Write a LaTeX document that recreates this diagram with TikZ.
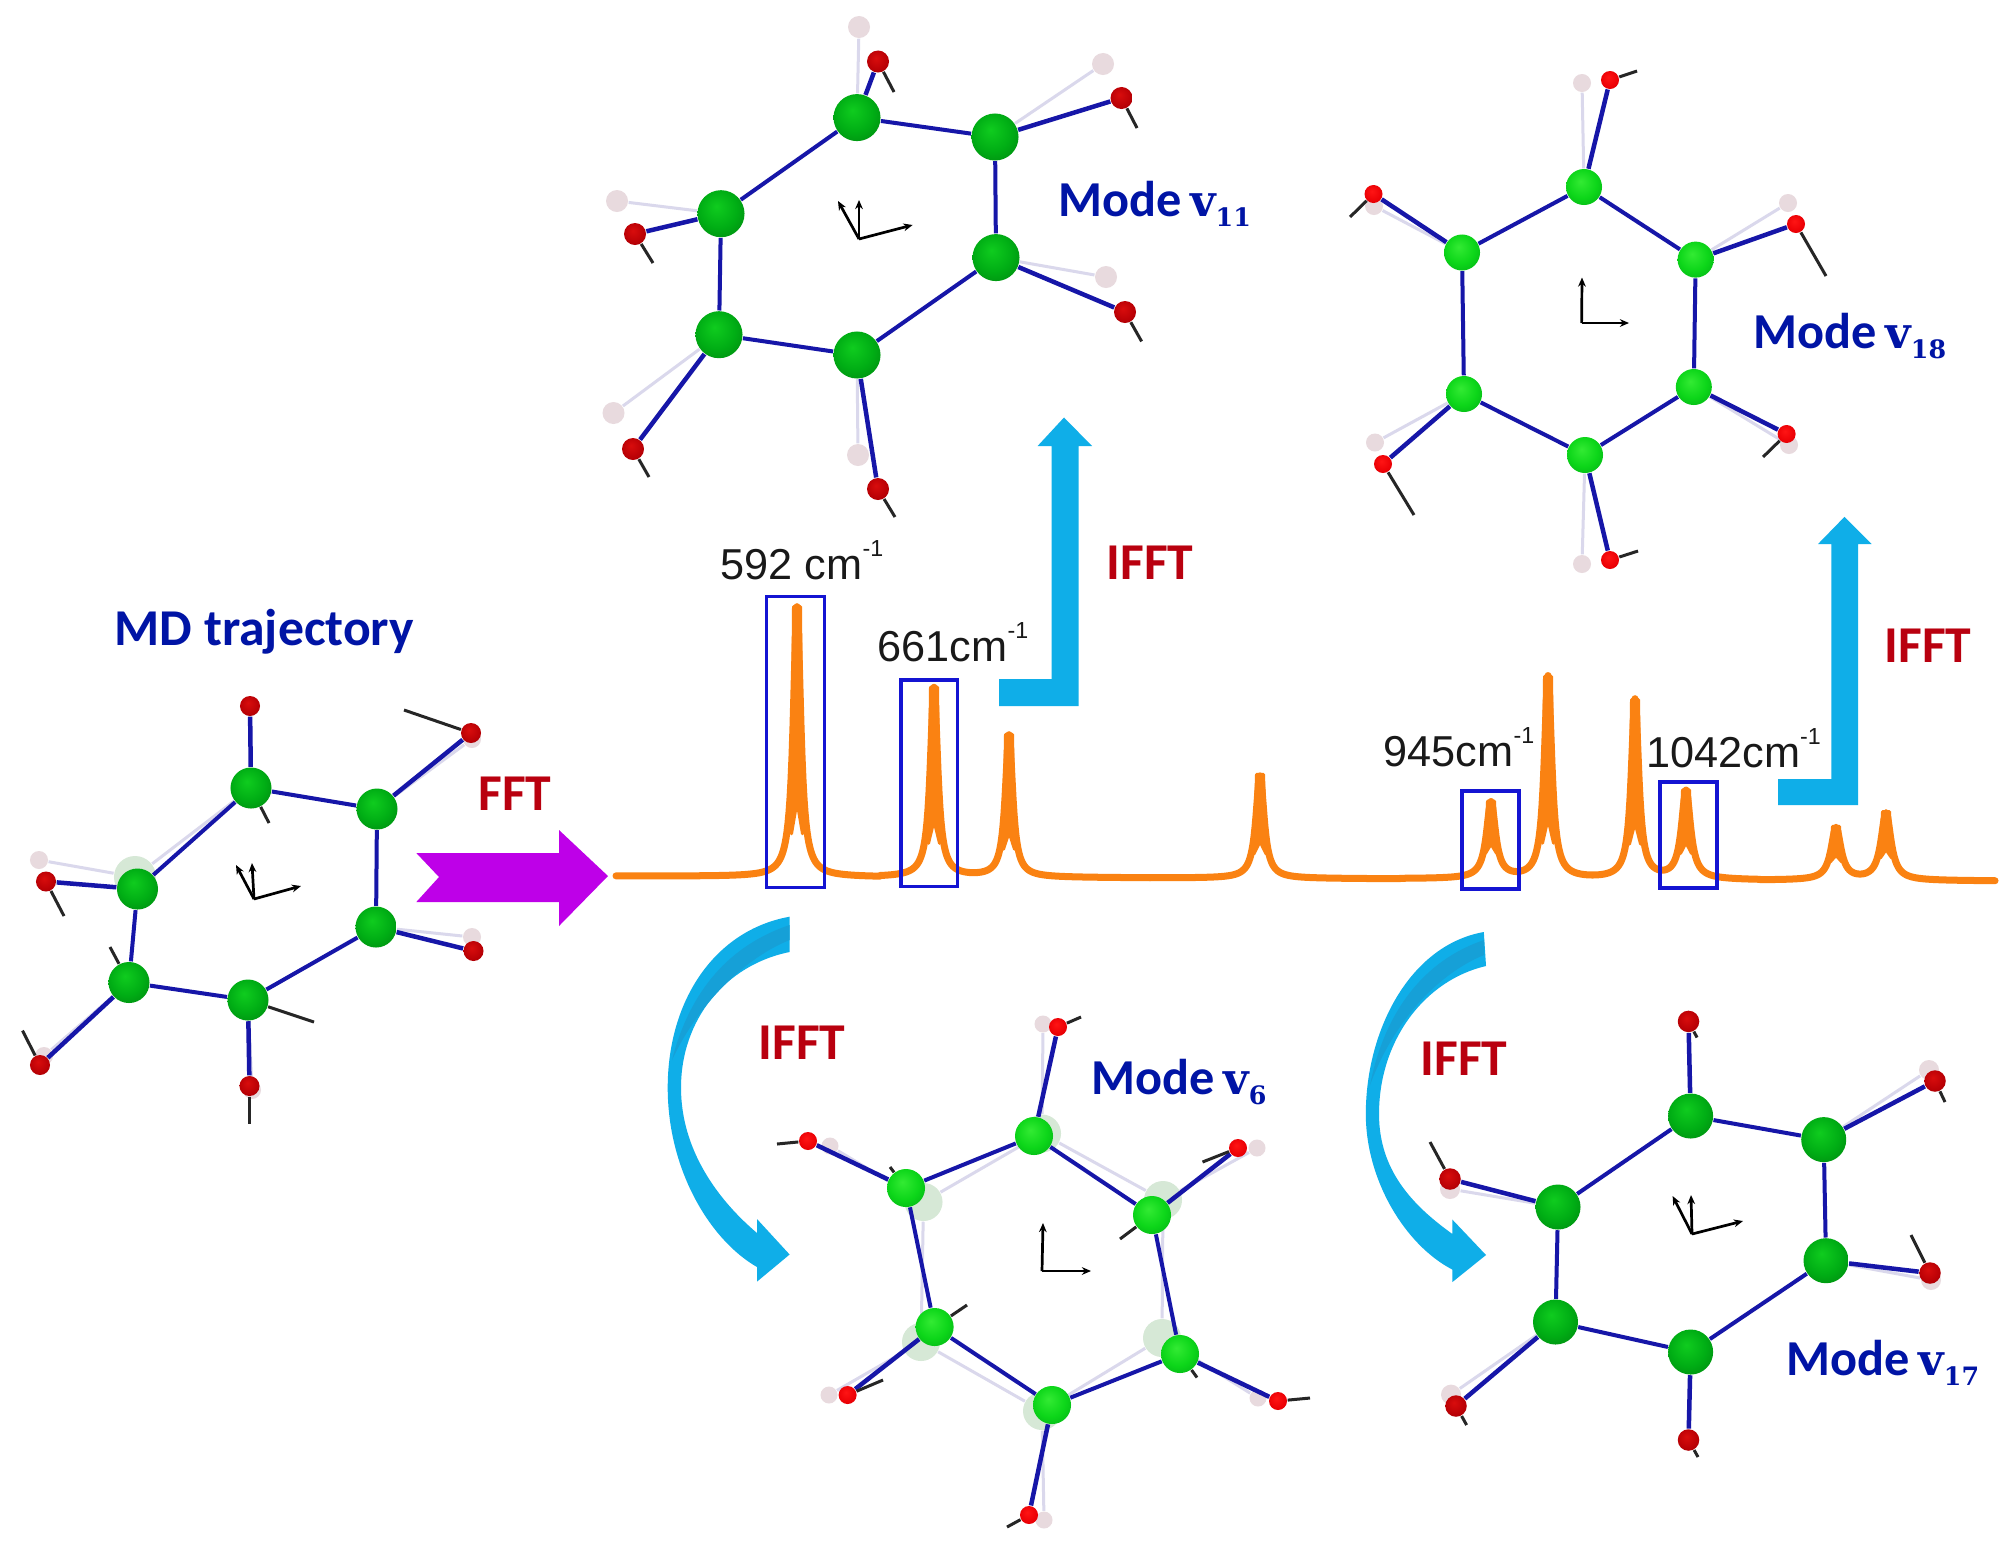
\documentclass[tikz,border=0pt]{standalone}
\usepackage{fontspec}
\usetikzlibrary{arrows.meta,backgrounds}
\setmainfont{Liberation Sans}
\newfontfamily\modefont{Carlito}[BoldFont={Carlito Bold}]
\newfontfamily\nufont{DejaVu Serif}
\definecolor{bondblue}{RGB}{22,22,168}
\definecolor{ghostbond}{RGB}{218,216,236}
\definecolor{ghostO}{RGB}{232,218,222}
\definecolor{ghostC}{RGB}{214,232,214}
\definecolor{specorange}{RGB}{250,130,18}
\definecolor{boxblue}{RGB}{20,20,210}
\definecolor{labelblue}{RGB}{0,20,165}
\definecolor{labelred}{RGB}{185,0,15}
\definecolor{arrowblue}{RGB}{15,174,232}
\definecolor{arrowfold}{RGB}{22,160,215}
\definecolor{arrowmagenta}{RGB}{190,0,232}
\pgfdeclareradialshading{cdark}{\pgfpoint{-5bp}{8bp}}{rgb(0bp)=(0.06,0.8,0.12);rgb(20bp)=(0,0.68,0.08);rgb(38bp)=(0,0.52,0.06);rgb(50bp)=(0,0.4,0.08)}
\pgfdeclareradialshading{cbright}{\pgfpoint{-5bp}{8bp}}{rgb(0bp)=(0.2,0.92,0.2);rgb(20bp)=(0.05,0.84,0.1);rgb(38bp)=(0,0.68,0.08);rgb(50bp)=(0,0.52,0.1)}
\pgfdeclareradialshading{odark}{\pgfpoint{-5bp}{8bp}}{rgb(0bp)=(0.85,0.05,0.05);rgb(25bp)=(0.72,0,0.02);rgb(50bp)=(0.4,0,0.05)}
\pgfdeclareradialshading{obright}{\pgfpoint{-5bp}{8bp}}{rgb(0bp)=(1,0.08,0.08);rgb(25bp)=(0.92,0,0.02);rgb(50bp)=(0.68,0,0.05)}
\tikzset{
  atomball/.style={circle,inner sep=0pt,draw=none},
  ringbond/.style={draw=bondblue,line width=.04cm},
  obond/.style={draw=bondblue,line width=.045cm},
  hbond/.style={draw=black!85,line width=.03cm},
  ghostline/.style={draw=ghostbond,line width=.03cm},
  ghostOatom/.style={circle,inner sep=0pt,fill=ghostO,minimum size=#1},
  ghostCatom/.style={circle,inner sep=0pt,fill=ghostC,minimum size=#1},
  axisline/.style={draw=black,line width=.027cm,-{Stealth[length=2.6pt,width=2.2pt]}},
  spectrum/.style={draw=specorange,line width=.07cm,line join=round,line cap=round},
  peakcore/.style={fill=specorange,draw=specorange,line width=.03cm,line join=round},
  peakbox/.style={draw=boxblue,line width=.032cm,inner sep=0pt},
  peaklabel/.style={anchor=base west,inner sep=0pt,font=\fontsize{12.3}{14}\selectfont,text=black!90},
  opname/.style={inner sep=0pt,font=\modefont\bfseries\fontsize{14.7}{16}\selectfont,text=labelred},
  modename/.style={anchor=base west,inner sep=0pt,font=\modefont\bfseries\fontsize{14.3}{16}\selectfont,text=labelblue},
  blockarrow/.style={fill=arrowblue,draw=none},
}
\newcommand{\ringatoms}[6]{%
  \foreach \n/\px/\py in {#5}{\node[atomball,shading=c#2,minimum size=#3] (#1c\n) at (\px,\py) {};}
  \foreach \n/\px/\py in {#6}{\node[atomball,shading=o#2,minimum size=#4] (#1o\n) at (\px,\py) {};}
  \foreach \a/\b in {1/2,2/3,3/4,4/5,5/6,6/1}{\draw[ringbond] (#1c\a) -- (#1c\b);}
  \foreach \n in {1,...,6}{\draw[obond] (#1c\n) -- (#1o\n);}
}
\newcommand{\ghostO}[3]{%
  \begin{pgfonlayer}{background}
  \foreach \f/\n/\px/\py in {#3}{
    \node[ghostOatom=#2] (#1go\n) at (\px,\py) {};
    \draw[ghostline] (#1\f) -- (#1go\n);}
  \end{pgfonlayer}
}
\newcommand{\ghostC}[3]{%
  \begin{pgfonlayer}{background}
  \foreach \n/\px/\py in {#3}{\node[ghostCatom=#2] (#1gc\n) at (\px,\py) {};}
  \end{pgfonlayer}
}
\newcommand{\ghostlinks}[2]{%
  \begin{pgfonlayer}{background}
  \foreach \a/\b in {#2}{\draw[ghostline] (#1\a) -- (#1\b);}
  \end{pgfonlayer}
}
\newcommand{\hstubs}[2]{%
  \foreach \a/\px/\py in {#2}{
    \coordinate (#1h\a) at (\px,\py);
    \draw[hbond] (#1\a) -- (#1h\a);}
}
\newcommand{\axesmark}[3]{%
  \coordinate (#1ax) at (#2);
  \foreach \n/\px/\py in {#3}{
    \coordinate (#1ax\n) at (\px,\py);
    \draw[axisline] (#1ax) -- (#1ax\n);}
}
\newcommand{\modetext}[1]{Mode\,{\nufont\bfseries\fontsize{12.5}{15}\selectfont v}\raisebox{-3pt}{\nufont\bfseries\fontsize{7.2}{9}\selectfont #1}}
\newcommand{\wavenum}[1]{#1cm\raisebox{6.5pt}{\fontsize{6.6}{8}\selectfont -1}}
\begin{document}
\begin{tikzpicture}[x=.01cm,y=-.01cm,
  declare function={
    lor(\x,\c,\h,\w)=\h*(\w/100)*(\w/100)/(((\x-\c)/100)*((\x-\c)/100)+(\w/100)*(\w/100));
    basel(\x)=876+0.0036*(\x-616);
  }]
\path[use as bounding box] (0,0) rectangle (2013,1554);
\begin{pgfonlayer}{background}
\fill[white] (0,0) rectangle (2013,1554);
\end{pgfonlayer}

% ---- MD trajectory molecule
\ringatoms{ma}{dark}{.41cm}{.2cm}
  {1/251/788,2/377/809,3/376/927,4/248/1000,5/129/982.5,6/137.5/889}
  {1/250/706,2/471/733,3/473.5/951,4/249.5/1086,5/40/1065,6/46/881.5}
\ghostC{ma}{.42cm}{6/135/877}
\ghostO{ma}{.18cm}{gc6/6/39/860,c3/3/472/937,c2/2/472/739,c5/5/44/1056,c4/4/252/1090}
\ghostlinks{ma}{gc6/c1}
\hstubs{ma}{o2/404/710,o4/249.5/1124,o5/22.5/1030.6,o6/64/916,c1/269/823,c4/314/1022,c5/110/947}
\axesmark{ma}{254,899}{1/236/865,2/252/863,3/301/886}

% ---- Mode v11
\ringatoms{mb}{dark}{.47cm}{.22cm}
  {1/857/117.6,2/995/137,3/996/257.6,4/857/355,5/719/334.7,6/721/213.7}
  {1/878/61.5,2/1121.5/98,3/1125/312,4/878/489,5/633/449,6/635/234}
\ghostO{mb}{.22cm}{c1/1/859/27,c2/2/1103/64,c3/3/1106/277,c4/4/858/455,c5/5/613.5/413,c6/6/617/201}
\hstubs{mb}{o1/894/92,o2/1137/128,o3/1141.6/341.4,o4/895/517,o5/649/477,o6/653/263}
\axesmark{mb}{859,239}{1/838/201,2/859/200,3/912.6/225}

% ---- Mode v18
\ringatoms{mc}{bright}{.36cm}{.18cm}
  {1/1584/187,2/1695.6/259.6,3/1693.8/387,4/1585/455,5/1464/394,6/1462/252.5}
  {1/1610/80,2/1796/224,3/1786.6/434,4/1610/560,5/1383/464,6/1373.5/194}
\ghostO{mc}{.18cm}{c1/1/1582/83,c2/2/1788/203,c3/3/1789/445,c4/4/1582/564,c5/5/1375/442.5,c6/6/1374/206}
\hstubs{mc}{o1/1637/71,o2/1826/276,o3/1763/457,o4/1638/551,o5/1414/515,o6/1350/217}
\axesmark{mc}{1581.6,323}{1/1582/277.5,2/1629/323}

% ---- Mode v6
\ringatoms{md}{bright}{.38cm}{.18cm}
  {1/1034/1136,2/1152/1215,3/1180/1354,4/1052/1405,5/934.6/1327,6/906/1188}
  {1/1058/1027,2/1238/1148,3/1278/1401,4/1029/1515,5/847.6/1395,6/808/1141}
\ghostC{md}{.38cm}{1/1042/1133.5,2/1163/1200,3/1162/1338,4/1042/1411,5/921/1342,6/923.5/1202}
\ghostO{md}{.17cm}{gc1/1/1043/1024,gc2/2/1257/1148,gc3/3/1258/1398,gc4/4/1044/1520,gc5/5/829/1395,gc6/6/830/1146}
\ghostlinks{md}{gc1/gc2,gc2/gc3,gc3/gc4,gc4/gc5,gc5/gc6,gc6/gc1}
\hstubs{md}{o1/1081/1017,o2/1202.5/1162,o3/1310/1398,o4/1007/1527,o5/883/1380,o6/777/1144,c2/1120/1239,c3/1197/1377.5,c5/967/1305,c6/890/1167}
\axesmark{md}{1042,1271}{1/1043/1223,2/1091/1271}

% ---- Mode v17
\ringatoms{me}{dark}{.45cm}{.215cm}
  {1/1690.6/1116,2/1823.7/1139.6,3/1826/1260.7,4/1690.6/1352,5/1555.5/1322,6/1558/1207}
  {1/1688.5/1021.4,2/1935/1081,3/1930/1273,4/1688.5/1440,5/1456/1406,6/1450/1179}
\ghostO{me}{.2cm}{c2/2/1929/1070,c3/3/1931/1280,c5/5/1451/1394.6,c6/6/1450/1189}
\hstubs{me}{o1/1697/1037.5,o2/1945/1102,o3/1911/1235,o4/1698/1457,o5/1466.6/1425,o6/1430/1142}
\axesmark{me}{1692,1234}{1/1672.6/1196,2/1691/1195,3/1743/1221}

% ---- spectrum
\draw[spectrum] plot[domain=616:880,samples=265] (\x,{basel(\x)-lor(\x,797,268,4.5)});
\draw[spectrum] plot[domain=880:1150,samples=271] (\x,{basel(\x)-lor(\x,934,188,4.5)-lor(\x,1009,141,4.5)});
\draw[spectrum] plot[domain=1150:1400,samples=251] (\x,{basel(\x)-lor(\x,1260,102,5)});
\draw[spectrum] plot[domain=1400:1760,samples=361] (\x,{basel(\x)-lor(\x,1491,76,5.5)-lor(\x,1548,201,4.5)-lor(\x,1635,178,4.5)-lor(\x,1686,88,5.5)});
\draw[spectrum] plot[domain=1760:1995,samples=236] (\x,{basel(\x)-lor(\x,1836,52,6)-lor(\x,1886,67,6)});
% the solid upper part of every peak, ending in a pointed notch
\foreach \c/\h/\f/\b in {797/268/.16/5.5,934/188/.18/5.5,1009/141/.2/5.5,1260/102/.24/6,1491/76/.34/5.5,1548/201/.18/5.5,1635/178/.2/5.5,1686/88/.3/5.5,1836/52/.36/5.5,1886/67/.34/5.5}{
  \filldraw[peakcore] ({\c-3.5},{basel(\c)-\h-2}) -- ({\c+3.5},{basel(\c)-\h-2}) -- ({\c+\b},{basel(\c)-\f*\h}) -- (\c,{basel(\c)-(\f+.12)*\h}) -- ({\c-\b},{basel(\c)-\f*\h}) -- cycle;
}

\node[peakbox,minimum width=.581cm,minimum height=2.907cm] (boxa) at (795.5,742.3) {};
\node[peakbox,minimum width=.566cm,minimum height=2.067cm] (boxb) at (929.3,783.3) {};
\node[peakbox,minimum width=.57cm,minimum height=.98cm] (boxc) at (1490.5,840) {};
\node[peakbox,minimum width=.57cm,minimum height=1.06cm] (boxd) at (1688.5,835) {};

\node[peaklabel] (la) at (720,579) {592 \wavenum{}};
\node[peaklabel] (lb) at (877,661.7) {\wavenum{661}};
\node[peaklabel] (lc) at (1383,766) {\wavenum{945}};
\node[peaklabel] (ld) at (1645.6,767) {\wavenum{1042}};

% ---- arrows
\fill[arrowmagenta] (416.3,853) -- (559,853) -- (559,830) -- (608,876) -- (559,926) -- (559,902) -- (416.3,902) -- (439,877) -- cycle;
\fill[blockarrow] (1064,417.5) -- (1092,446) -- (1078.5,446) -- (1078.5,706) -- (999,706) -- (999,679) -- (1051.5,679) -- (1051.5,446) -- (1037.6,446) -- cycle;
\fill[blockarrow] (1844.5,516.8) -- (1871.5,544) -- (1858,544) -- (1858,805) -- (1778,805) -- (1778,779) -- (1831.4,779) -- (1831.4,544) -- (1818,544) -- cycle;
\fill[blockarrow] (789.6,916.7) .. controls (715,930) and (667.7,1000) .. (667.7,1087.7) .. controls (667.7,1170) and (710,1240) .. (757,1267) -- (757,1281.6) -- (789.6,1254.5) -- (757,1219) -- (757,1233) .. controls (718,1200) and (681,1150) .. (681,1087.7) .. controls (681,1020) and (725,965) .. (789.6,952) -- cycle;
\fill[arrowfold] (789.6,925) .. controls (730,945) and (690,990) .. (672,1060) .. controls (695,1010) and (740,960) .. (789.6,940) -- cycle;
\fill[blockarrow] (1483.8,932) .. controls (1410,945) and (1365.8,1030) .. (1365.8,1114) .. controls (1365.8,1180) and (1405,1245) .. (1452.4,1269.6) -- (1452.4,1282) -- (1486,1255) -- (1452.4,1219.6) -- (1452.4,1234) .. controls (1412,1205) and (1379,1170) .. (1379,1114) .. controls (1379,1040) and (1425,980) .. (1486,966) -- cycle;
\fill[arrowfold] (1484,940) .. controls (1425,960) and (1385,1010) .. (1370,1085) .. controls (1392,1025) and (1435,975) .. (1484,955) -- cycle;

% ---- labels
\node[inner sep=0pt,anchor=base west,font=\modefont\bfseries\fontsize{14.7}{16}\selectfont,text=labelblue] (mdlabel) at (114,645) {MD trajectory};
\node[opname] (fft) at (515,794) {FFT};
\node[opname] (ifa) at (1150,562.5) {IFFT};
\node[opname] (ifb) at (1928,646) {IFFT};
\node[opname] (ifc) at (802,1043) {IFFT};
\node[opname] (ifd) at (1464,1059) {IFFT};
\node[modename] (mva) at (1057.7,216) {\modetext{11}};
\node[modename] (mvb) at (1753,348) {\modetext{18}};
\node[modename] (mvc) at (1091,1094) {\modetext{6}};
\node[modename] (mvd) at (1786,1375) {\modetext{17}};
\end{tikzpicture}
\end{document}
